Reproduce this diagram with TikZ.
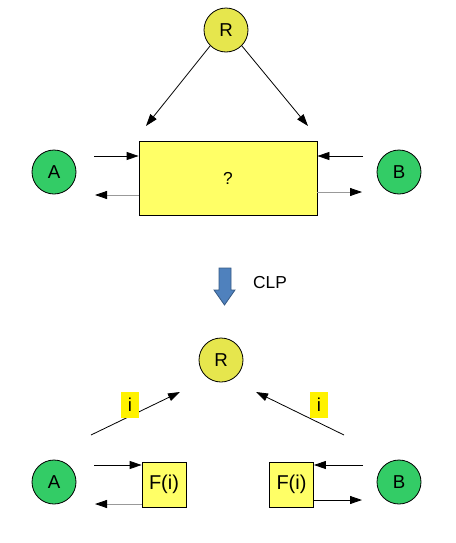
\documentclass[tikz,border=0pt]{standalone}
\usepackage{fontspec}
\setmainfont{Liberation Sans}
\usetikzlibrary{arrows.meta}
\definecolor{rootfill}{HTML}{E6E64D}
\definecolor{partyfill}{HTML}{33CC66}
\definecolor{boxfill}{HTML}{FFFF66}
\definecolor{clpblue}{HTML}{4F81BD}
\tikzset{
  party/.style={circle,draw,line width=0.6pt,minimum size=33pt,inner sep=0pt,
    font=\fontsize{14}{16}\selectfont},
  fbox/.style={draw,line width=0.6pt,fill=boxfill,inner sep=0pt,
    minimum width=33pt,minimum height=33.75pt,font=\fontsize{15}{17}\selectfont},
  ilabel/.style={fill=yellow,inner sep=0pt,minimum width=13.5pt,minimum height=20pt,
    font=\fontsize{14}{16}\selectfont},
  msg/.style={line width=0.6pt,-{Triangle[length=9pt,width=6pt,color=black]}},
  back/.style={msg,draw=gray!80}
}
\begin{document}
\begin{tikzpicture}[x=0.75pt,y=-0.75pt]
\useasboundingbox (0,0) rectangle (455,543);
% before
\node[party,fill=rootfill] (R1) at (226,30) {R};
\node[party,fill=partyfill] (A1) at (54,172) {A};
\node[party,fill=partyfill] (B1) at (399,172) {B};
\node[draw,line width=0.6pt,fill=boxfill,minimum width=133.5pt,minimum height=55.5pt,
  font=\fontsize{13}{15}\selectfont] (box) at (228,178) {?};
\coordinate (rl) at (146,126);
\coordinate (rr) at (308,126);
\draw[msg] (R1.225) -- (rl);
\draw[msg] (R1.315) -- (rr);
\coordinate (a1in) at (94,156);
\coordinate (a1out) at (95,195);
\coordinate (b1in) at (363,156);
\coordinate (b1out) at (362,192);
\draw[msg] (a1in) -- (a1in -| box.west);
\draw[back] (a1out -| box.west) -- (a1out);
\draw[msg] (b1in) -- (b1in -| box.east);
\draw[back] (b1out -| box.east) -- (b1out);
% CLP
\filldraw[fill=clpblue,draw=clpblue!70!black,line width=0.6pt]
  (219,268) -- (231,268) -- (231,290) -- (235,290) -- (224.5,305)
  -- (214,290) -- (219,290) -- cycle;
\node[font=\fontsize{13}{15}\selectfont] (clp) at (270,283) {CLP};
% after
\node[party,fill=rootfill] (R2) at (221,360) {R};
\node[party,fill=partyfill] (A2) at (54,482) {A};
\node[party,fill=partyfill] (B2) at (399,482) {B};
\node[fbox] (FL) at (164,484.5) {F(i)};
\node[fbox] (FR) at (291.5,484.5) {F(i)};
\coordinate (il) at (91,435);
\coordinate (ir) at (344,435);
\draw[msg] (il) -- (180,392);
\draw[msg] (ir) -- (256,392);
\node[ilabel] (iL) at (130,405) {i};
\node[ilabel] (iR) at (319,405) {i};
\coordinate (a2in) at (94,465);
\coordinate (a2out) at (95,504);
\coordinate (b2in) at (363,465);
\coordinate (b2out) at (362,500);
\draw[msg] (a2in) -- (a2in -| FL.west);
\draw[back] (a2out -| FL.west) -- (a2out);
\draw[msg] (b2in) -- (b2in -| FR.east);
\draw[msg] (b2out -| FR.east) -- (b2out);
\end{tikzpicture}
\end{document}
